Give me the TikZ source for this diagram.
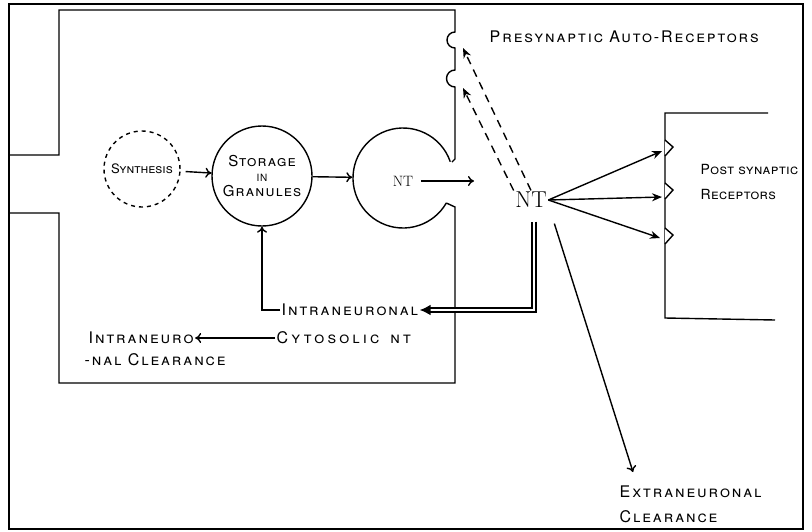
\documentclass[tikz,border=0pt]{standalone}
\usepackage{fontspec}
\setsansfont{TeX Gyre Heros}
\usetikzlibrary{arrows.meta,calc}
\begin{document}
\begin{tikzpicture}[x=1pt,y=1pt,line width=1.4pt,
  lbl/.style={font=\sffamily\scshape\addfontfeature{LetterSpace=12}\fontsize{16}{25}\selectfont,inner sep=1pt},
  ntsmall/.style={font=\rmfamily\fontsize{15}{17}\selectfont,inner sep=1pt},
  ntbig/.style={font=\rmfamily\fontsize{23}{25}\selectfont,inner sep=1pt},
  arr/.style={-{To[length=6pt,width=10pt]}},
  farr/.style={-{Stealth[length=10pt,width=8pt]}},
  dbl/.style={double,double distance=2.4pt,line width=2pt,-{Latex[length=11pt,width=11pt]}}]
  \useasboundingbox (0,0) rectangle (812,-531);
  \draw[line width=2.2pt] (9,-4) rectangle (803,-529);

  % presynaptic ending, with the two auto-receptors
  \draw (10,-155) -- (59,-155) -- (59,-10) -- (455,-10) -- (455,-32)
    arc[start angle=90,end angle=270,radius=8] -- (455,-70)
    arc[start angle=90,end angle=270,radius=8.5] -- (455,-159) -- (452,-162);
  % postsynaptic membrane
  \draw (768,-113) -- (665,-113) -- (665,-318) -- (775,-320);
  \foreach \Y in {140,183,228} {
    \draw[fill=white] (665,-\Y) -- ++(8,-7) -- ++(-8,-9);}

  \node[circle,draw,dash pattern=on 4pt off 4pt,minimum size=76,lbl,font=\sffamily\scshape\fontsize{13}{15}\selectfont] (syn) at (142,-169) {Synthesis};
  \node[circle,draw,minimum size=100,align=center,lbl,font=\sffamily\scshape\addfontfeature{LetterSpace=8}\fontsize{15}{17}\selectfont] (stor) at (262,-176) {Storage\\[-2pt]{\fontsize{10}{12}\selectfont IN}\\[-2pt]Granules};
  \node[circle,minimum size=100] (ves) at (403,-178) {};
  \draw ($(ves)+(19:50)$) arc[start angle=19,end angle=330,radius=50];
  \draw ($(ves)+(330:50)$) -- (455,-207) -- (455,-383) -- (59,-383) -- (59,-213) -- (10,-213);
  \node[ntsmall] (vnt) at (403,-181) {NT};
  \coordinate (gap) at (474,-181);

  \node[ntbig] (nt) at (531,-200) {NT};
  \coordinate (rA) at (463,-48);
  \coordinate (rB) at (463,-88);
  \coordinate (pA) at (662,-151);
  \coordinate (pB) at (662,-197);
  \coordinate (pC) at (660,-238);

  \node[lbl,anchor=west] (pre) at (488,-37) {Presynaptic Auto-Receptors};
  \node[lbl,anchor=west,align=left,font=\sffamily\scshape\addfontfeature{LetterSpace=3}\fontsize{14}{25}\selectfont] (post) at (699,-182) {Post synaptic\\Receptors};
  \node[lbl,anchor=west] (intra) at (280,-310) {Intraneuronal};
  \node[lbl,anchor=west,font=\sffamily\scshape\addfontfeature{LetterSpace=20}\fontsize{16}{25}\selectfont] (cyto) at (275,-338) {Cytosolic \textsc{nt}};
  \node[lbl,anchor=west] (clrA) at (87,-338) {Intraneuro};
  \node[lbl,anchor=west] (clrB) at (83,-360) {-nal Clearance};
  \node[lbl,anchor=north west,align=left] (extra) at (618,-484) {Extraneuronal\\Clearance};

  \draw[arr,shorten <=5pt] (syn) -- (stor);
  \draw[arr] (stor) -- (ves);
  \draw[arr] (vnt.east) ++(6,0) -- (gap);
  \draw[farr,dash pattern=on 8pt off 6pt] (nt.north) -- (rA);
  \draw[farr,dash pattern=on 8pt off 6pt] (nt.north west) -- (rB);
  \foreach \P in {pA,pB,pC} {
    \draw[farr] (nt.east) -- (\P);}
  \draw[dbl] ($(nt.south)+(3,-12)$) |- (intra.east);
  \draw[arr] (intra.west) -| (stor.south);
  \draw[arr] (cyto.west) -- (clrA.east);
  \draw[arr] ($(nt.south east)+(6,-14)$) -- ($(extra.north west)+(15,12)$);
\end{tikzpicture}
\end{document}
